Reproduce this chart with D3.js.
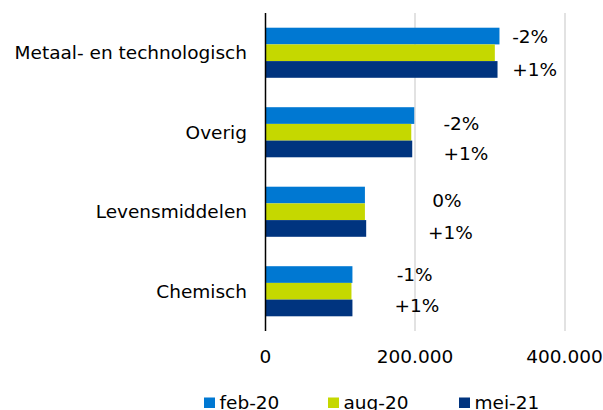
<!DOCTYPE html>
<html><head><meta charset="utf-8">
<script src="https://cdn.jsdelivr.net/npm/d3@7"></script>
<style>body{margin:0;background:#fff}svg{display:block}text{font-family:"DejaVu Sans",Verdana,sans-serif;fill:#000;font-size:18.5px}</style>
</head><body><svg id="c" width="603" height="410"></svg>
<script>
const categories = ["Metaal- en technologisch","Overig","Levensmiddelen","Chemisch"];
const seriesNames = ["feb-20","aug-20","mei-21"];
const feb20 = [313000, 199000, 133000, 116300];
const aug20 = [306800, 195000, 133000, 115000];
const mei21 = [310400, 196300, 134700, 116300];
const changeAug = ["-2%","-2%","0%","-1%"];
const changeMei = ["+1%","+1%","+1%","+1%"];
const changeAugAt = [330000, 238000, 223000, 175500];
const changeMeiAt = [330000, 238000, 217500, 172500];
const tickValues = [0, 200000, 400000];
const tickLabels = ["0","200.000","400.000"];

const colors = ["#0078D2","#C5D800","#00347F"];
const series = [feb20, aug20, mei21];
const svg = d3.select("#c");
const x = d3.scaleLinear().domain([0,400000]).range([265.5,564.5]);
const y = d3.scaleBand().domain(categories).range([13,331]).paddingInner(0.37).paddingOuter(0.185);
const ys = d3.scaleBand().domain(seriesNames).range([0,y.bandwidth()]);

// gridlines
svg.append("g").selectAll("line").data(tickValues.slice(1)).join("line")
  .attr("x1",d=>Math.round(x(d))).attr("x2",d=>Math.round(x(d)))
  .attr("y1",13).attr("y2",331).attr("stroke","#d9d9d9").attr("stroke-width",1.5);

// bars
categories.forEach((c,i)=>{
  seriesNames.forEach((s,j)=>{
    svg.append("rect").attr("x",x(0)).attr("y",y(c)+ys(s))
      .attr("width",x(series[j][i])-x(0)).attr("height",ys.bandwidth())
      .attr("fill",colors[j]);
  });
});

// axis line
svg.append("line").attr("x1",265.5).attr("x2",265.5).attr("y1",13).attr("y2",331)
  .attr("stroke","#000").attr("stroke-width",1.5);

// category labels
svg.append("g").selectAll("text").data(categories).join("text")
  .attr("x",247).attr("y",d=>y(d)+y.bandwidth()/2).attr("dy","0.35em")
  .attr("text-anchor","end").text(d=>d);

// tick labels
svg.append("g").selectAll("text").data(tickValues).join("text")
  .attr("x",d=>x(d)).attr("y",363)
  .attr("text-anchor","middle").text((d,i)=>tickLabels[i]);

// change labels
categories.forEach((c,i)=>{
  svg.append("text").attr("x",x(changeAugAt[i])).attr("y",y(c)+ys("feb-20")+ys.bandwidth()/2+ (i===1?8:i===2?5:0))
    .attr("dy","0.35em").text(changeAug[i]);
  svg.append("text").attr("x",x(changeMeiAt[i])).attr("y",y(c)+ys("mei-21")+ys.bandwidth()/2+ (i===1?5:i===2?4:i===3?-2:0))
    .attr("dy","0.35em").text(changeMei[i]);
});

// legend
const legX = [204, 328, 459];
seriesNames.forEach((s,j)=>{
  svg.append("rect").attr("x",legX[j]).attr("y",397.5).attr("width",11).attr("height",10.5).attr("fill",colors[j]);
  svg.append("text").attr("x",legX[j]+15.5).attr("y",409).text(s);
});
</script></body></html>
